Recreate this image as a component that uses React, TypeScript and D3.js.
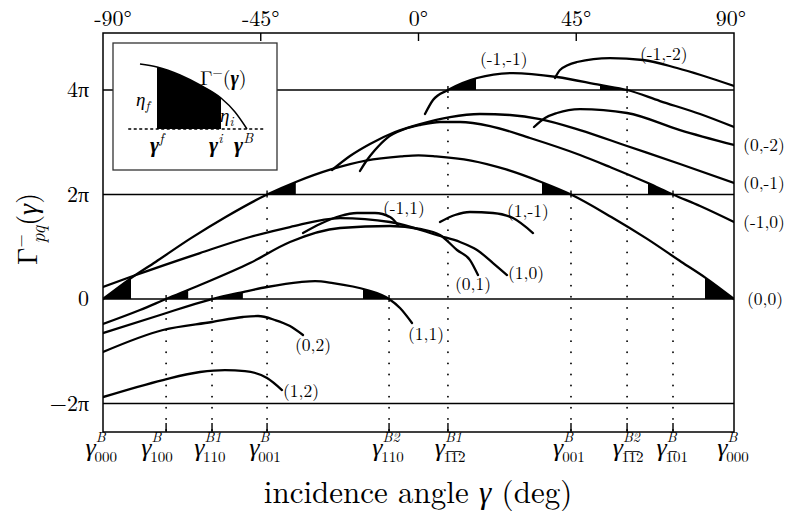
import React from 'react';
import * as d3 from 'd3';

type P = [number, number];

// ---------- axis / reference data ----------
const xTickDeg = [-90, -45, 0, 45, 90];
const xTickText = ['-90°', '-45°', '0°', '45°', '90°'];
const xTickShift = [10, 0, 0, 0, -3];
const yTickVal = [4, 2, 0, -2];
const yTickText = ['4π', '2π', '0', '−2π'];
const levelLines = [4, 2, 0, -2];

const braggDeg = [-90, -72.0, -58.9, -43.2, -8.4, 8.4, 43.5, 59.5, 72.6, 90];
const braggLevel: (number | null)[] = [null, 0, 0, 2, 0, 4, 2, 4, 2, null];
const braggSup = ['B', 'B', 'B1', 'B', 'B2', 'B1', 'B', 'B2', 'B', 'B'];
const braggSub = ['000', '100', '110', '001', '110', '1\u03051\u03052', '001', '1\u03051\u03052', '1\u030501', '000'];
const braggLabelDeg = [-90.5, -74.6, -59.5, -43.8, -8.7, 9.0, 42.9, 59.8, 72.4, 89.7];

// ---------- curves: [incidence angle (deg), Gamma (units of pi)] ----------
const c00: P[] = [[-90, 0], [-82, 0.4], [-75, 0.71], [-65, 1.16], [-55, 1.57], [-43.2, 2.0], [-35, 2.24], [-25, 2.48], [-15, 2.65], [-5, 2.73], [0, 2.75], [5, 2.73], [15, 2.65], [25, 2.48], [35, 2.24], [43.5, 2.0], [55, 1.57], [65, 1.16], [75, 0.71], [82, 0.4], [90, 0]];
const cm10: P[] = [[-16.69, 2.45], [-14.69, 2.66], [-12.41, 2.852], [-8.99, 3.081], [-3.85, 3.254], [0.43, 3.33], [6.13, 3.388], [11.84, 3.388], [20.4, 3.311], [31.81, 3.081], [46.07, 2.756], [54.63, 2.526], [65.47, 2.22], [72.6, 2.0], [80.32, 1.78], [90, 1.474]];
const c0m1: P[] = [[-24.68, 2.469], [-19.54, 2.737], [-13.84, 2.967], [-6.7, 3.196], [0.43, 3.349], [8.99, 3.483], [17.54, 3.541], [26.1, 3.522], [34.66, 3.445], [46.07, 3.234], [59.48, 2.928], [74.6, 2.584], [90, 2.22]];
const cm1m1: P[] = [[1.85, 3.541], [4.14, 3.809], [8.4, 4.0], [16.69, 4.23], [26.96, 4.325], [39.51, 4.249], [51.77, 4.096], [59.5, 4.0], [68.89, 3.789], [80.32, 3.541], [90, 3.292]];
const cm1m2: P[] = [[38.94, 4.23], [40.36, 4.383], [45.21, 4.536], [54.63, 4.612], [64.04, 4.574], [73.74, 4.421], [90, 4.077]];
const c0m2: P[] = [[32.95, 3.292], [36.09, 3.464], [39.51, 3.56], [46.07, 3.636], [59.48, 3.56], [74.6, 3.234], [90, 2.947]];
const c10: P[] = [[-90, 0.23], [-81.44, 0.44], [-62.33, 0.88], [-48.06, 1.187], [-36.66, 1.378], [-22.39, 1.55], [-8.13, 1.474], [6.13, 1.206], [11.84, 1.091], [16.69, 0.938], [21.25, 0.689], [25.25, 0.459]];
const c01: P[] = [[-90, -0.478], [-79.44, -0.211], [-72.0, 0], [-62.33, 0.268], [-48.06, 0.689], [-36.66, 1.091], [-22.39, 1.359], [-8.13, 1.397], [0.43, 1.34], [6.13, 1.225], [10.98, 0.938], [14.69, 0.746], [16.97, 0.459]];
const c11: P[] = [[-90, -0.651], [-74.6, -0.325], [-58.9, 0], [-50.06, 0.134], [-43.21, 0.23], [-33.8, 0.325], [-29.52, 0.344], [-24.39, 0.306], [-14.69, 0.172], [-8.4, 0], [-5.28, -0.172], [-1.85, -0.459]];
const c02: P[] = [[-90, -1.014], [-72.89, -0.593], [-58.9, -0.44], [-50.06, -0.344], [-45.78, -0.325], [-40.93, -0.402], [-36.66, -0.517], [-32.95, -0.689]];
const c12: P[] = [[-90, -1.876], [-72.89, -1.55], [-62.33, -1.397], [-55.2, -1.359], [-49.49, -1.378], [-43.21, -1.512], [-38.94, -1.742]];
const cm11: P[] = [[-32.95, 1.263], [-28.1, 1.435], [-22.39, 1.589], [-17.54, 1.646], [-12.41, 1.646], [-8.13, 1.569], [-5.85, 1.416]];
const c1m1: P[] = [[6.13, 1.474], [10.41, 1.608], [14.69, 1.665], [21.25, 1.646], [26.96, 1.55], [32.66, 1.263]];

const curveList: P[][] = [c00, cm10, c0m1, cm1m1, cm1m2, c0m2, c10, c01, c11, c02, c12, cm11, c1m1];

// shaded regions: curve index, from deg, to deg, level (pi)
const fillCurve = [0, 0, 0, 0, 8, 8, 7, 1, 3, 3];
const fillFrom = [-90, -43.2, 35.2, 81.7, -58.9, -15.8, -72.0, 65.5, 8.4, 51.8];
const fillTo = [-82, -35, 43.5, 90, -50.1, -8.4, -65.7, 72.6, 16.4, 59.5];
const fillLevel = [0, 2, 2, 0, 0, 0, 0, 2, 4, 4];

// curve labels
const curveLabelText = ['(0,0)', '(-1,0)', '(0,-1)', '(0,-2)', '(-1,-2)', '(-1,-1)', '(-1,1)', '(1,-1)', '(0,1)', '(1,0)', '(1,1)', '(0,2)', '(1,2)'];
const curveLabelDeg = [93.7, 92.6, 92.6, 92.6, 63.18, 17.54, -10.13, 25.25, 10.41, 25.53, -3.0, -35.23, -38.65];
const curveLabelVal = [-0.115, 1.359, 2.105, 2.833, 4.574, 4.478, 1.627, 1.569, 0.172, 0.383, -0.785, -0.995, -1.876];

// inset schematic (arbitrary units)
const insetCurve: P[] = [[0, 10], [1.59, 9.54], [3.74, 8.31], [5.61, 6.77], [7.57, 4.77], [8.88, 2.62], [10, 0]];
const insetFill = [1.59, 7.57];
const insetBase = [-1.1, 11.7];

const FONT = "'Latin Modern Roman', 'Liberation Serif', serif";

export default function App() {
  const L = 103, R = 734, T = 33, B = 432;
  const x = d3.scaleLinear().domain([-90, 90]).range([L, R]);
  const y = d3.scaleLinear().domain([-2.545, 5.091]).range([B, T]);
  const line = d3.line<P>().x(d => x(d[0])).y(d => y(d[1])).curve(d3.curveMonotoneX);

  const ix = d3.scaleLinear().domain([0, 10]).range([140, 247]);
  const iy = d3.scaleLinear().domain([0, 10]).range([129, 64]);
  const iline = d3.line<P>().x(d => ix(d[0])).y(d => iy(d[1])).curve(d3.curveMonotoneX);
  const iarea = d3.area<P>().x(d => ix(d[0])).y0(iy(0)).y1(d => iy(d[1])).curve(d3.curveMonotoneX);
  const tf = { fontFamily: FONT };
  const supW = (s: string) => (s.length === 1 ? 11 : 18.5);

  return (
    <svg width={786} height={513} style={{ position: 'absolute', left: 0, top: 0, background: '#fff', fontFamily: FONT }}>
      <defs>
        {fillCurve.map((c, i) => (
          <clipPath id={'fc' + i} key={i}>
            <rect x={x(fillFrom[i])} y={T} width={x(fillTo[i]) - x(fillFrom[i])} height={B - T} />
          </clipPath>
        ))}
        <clipPath id="plotclip"><rect x={L} y={T} width={R - L} height={B - T} /></clipPath>
        <clipPath id="insetclip"><rect x={ix(insetFill[0])} y={40} width={ix(insetFill[1]) - ix(insetFill[0])} height={140} /></clipPath>
      </defs>

      {levelLines.map(v => (
        <line key={v} x1={L} x2={R} y1={y(v)} y2={y(v)} stroke="#000" strokeWidth={1.4} />
      ))}

      {braggDeg.map((d, i) => braggLevel[i] === null ? null : (
        <line key={'d' + i} x1={x(d)} x2={x(d)} y1={B - 2} y2={y(braggLevel[i] as number) + 4}
          stroke="#000" strokeWidth={1.8} strokeLinecap="round" strokeDasharray="0.1 11" />
      ))}
      {braggDeg.map((d, i) => braggLevel[i] === null ? null : (
        <line key={'k' + i} x1={x(d)} x2={x(d)} y1={y(braggLevel[i] as number) - 4} y2={y(braggLevel[i] as number) + 3}
          stroke="#000" strokeWidth={1.4} />
      ))}

      {fillCurve.map((c, i) => {
        const a = d3.area<P>().x(d => x(d[0])).y0(y(fillLevel[i])).y1(d => y(d[1])).curve(d3.curveMonotoneX);
        return <path key={'f' + i} d={a(curveList[c]) || ''} fill="#000" clipPath={`url(#fc${i})`} />;
      })}

      <g clipPath="url(#plotclip)">
        {curveList.map((c, i) => (
          <path key={'c' + i} d={line(c) || ''} fill="none" stroke="#000" strokeWidth={2.3} strokeLinecap="round" />
        ))}
      </g>

      <rect x={L} y={T} width={R - L} height={B - T} fill="none" stroke="#000" strokeWidth={1.5} />

      {xTickDeg.map((d, i) => (
        <g key={'t' + i}>
          {i > 0 && i < xTickDeg.length - 1 && <line x1={x(d)} x2={x(d)} y1={T} y2={T + 8} stroke="#000" strokeWidth={1.4} />}
          <text style={tf} x={x(d) + xTickShift[i]} y={26} fontSize={22} textAnchor="middle">{xTickText[i]}</text>
        </g>
      ))}

      {yTickVal.map((v, i) => (
        <text style={tf} key={'y' + i} x={89} y={y(v) + 7} fontSize={22} textAnchor="end">{yTickText[i]}</text>
      ))}

      {braggDeg.map((d, i) => (
        <g key={'b' + i}>
          {i > 0 && i < braggDeg.length - 1 && <line x1={x(d)} x2={x(d)} y1={B} y2={B - 9} stroke="#000" strokeWidth={1.4} />}
          <text style={tf} x={x(braggLabelDeg[i])} y={456} fontSize={26} textAnchor="middle">
            <tspan fontStyle="italic">γ</tspan>
            <tspan fontSize={14} fontStyle="italic" dy={-14}>{braggSup[i]}</tspan>
            <tspan fontSize={15} dx={-supW(braggSup[i])} dy={20}>{braggSub[i]}</tspan>
          </text>
        </g>
      ))}

      {curveLabelText.map((t, i) => (
        <text style={tf} key={'l' + i} x={x(curveLabelDeg[i])} y={y(curveLabelVal[i])} fontSize={17.5}>{t}</text>
      ))}

      <text style={tf} x={418} y={503} fontSize={31} textAnchor="middle">
        incidence angle <tspan fontStyle="italic">γ</tspan> (deg)
      </text>
      <text style={tf} transform="translate(37,229) rotate(-90)" fontSize={28} textAnchor="middle">
        Γ<tspan fontSize={17} dy={-11}>−</tspan><tspan fontSize={19} fontStyle="italic" dx={-9} dy={19}>pq</tspan><tspan dy={-8}>(</tspan><tspan fontStyle="italic">γ</tspan>)
      </text>

      <rect x={113} y={43} width={164} height={127} fill="#fff" stroke="#333" strokeWidth={1.3} />
      <path d={iarea(insetCurve) || ''} fill="#000" clipPath="url(#insetclip)" />
      <path d={iline(insetCurve) || ''} fill="none" stroke="#000" strokeWidth={1.5} />
      <line x1={ix(insetBase[0])} x2={ix(insetBase[1])} y1={iy(0)} y2={iy(0)} stroke="#000" strokeWidth={1.3} strokeDasharray="3 2.5" />
      <text style={tf} x={200} y={85} fontSize={20}>Γ<tspan fontSize={13} dy={-8}>−</tspan><tspan dy={8}>(</tspan><tspan fontStyle="italic" fontWeight="bold">γ</tspan>)</text>
      <text style={tf} x={136} y={106} fontSize={19} fontStyle="italic">η<tspan fontSize={13} dy={4}>f</tspan></text>
      <text style={tf} x={220} y={122} fontSize={19} fontStyle="italic">η<tspan fontSize={13} dy={4}>i</tspan></text>
      <text style={tf} x={150} y={152} fontSize={22} fontStyle="italic" fontWeight="bold">γ<tspan fontSize={14} dy={-9} fontWeight="normal">f</tspan></text>
      <text style={tf} x={209} y={152} fontSize={22} fontStyle="italic" fontWeight="bold">γ<tspan fontSize={14} dy={-9} fontWeight="normal">i</tspan></text>
      <text style={tf} x={234} y={152} fontSize={22} fontStyle="italic" fontWeight="bold">γ<tspan fontSize={14} dy={-9} fontWeight="normal" fontStyle="italic">B</tspan></text>
    </svg>
  );
}
